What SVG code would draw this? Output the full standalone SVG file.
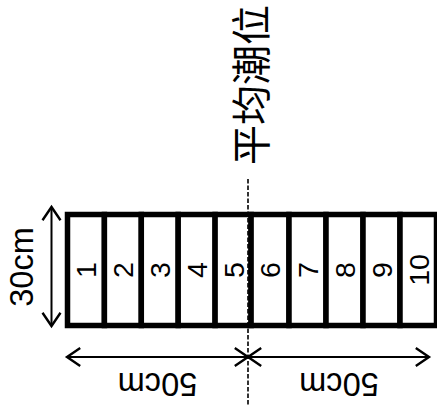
<svg xmlns="http://www.w3.org/2000/svg" width="437" height="412" viewBox="0 0 437 412">
<style>
.cell{fill:#fff;stroke:#000;stroke-width:5.5}
.num{font-family:"Liberation Sans",Arial,sans-serif;font-size:28.5px;fill:#000;text-anchor:middle}
.lbl{font-family:"Liberation Sans",Arial,sans-serif;font-size:32.5px;fill:#000;text-anchor:middle}
.cjk{font-family:"Noto Sans CJK SC",sans-serif;font-size:40px;fill:#000;text-anchor:middle}
.arr{stroke:#000;stroke-width:2;fill:none}
.dash{stroke:#000;stroke-width:1.6;stroke-dasharray:4.5,2;fill:none}
</style>
<defs>
<marker id="ah" markerUnits="userSpaceOnUse" markerWidth="24" markerHeight="24" refX="0" refY="0" viewBox="-13 -10 16 20" orient="auto-start-reverse" overflow="visible">
<path d="M-11,-7.5 L0,0 L-11,7.5" fill="none" stroke="#000" stroke-width="2"/>
</marker>
</defs>
<rect width="437" height="412" fill="#fff"/>
<g id="cells">
<g id="cell1"><rect class="cell" x="67.5" y="214.5" width="36.9" height="111"/><text class="num" transform="translate(86,270) rotate(-90)" dy="0.36em">1</text></g>
<g id="cell2"><rect class="cell" x="104.4" y="214.5" width="36.9" height="111"/><text class="num" transform="translate(123,270) rotate(-90)" dy="0.36em">2</text></g>
<g id="cell3"><rect class="cell" x="141.3" y="214.5" width="36.9" height="111"/><text class="num" transform="translate(160,270) rotate(-90)" dy="0.36em">3</text></g>
<g id="cell4"><rect class="cell" x="178.2" y="214.5" width="36.9" height="111"/><text class="num" transform="translate(197,270) rotate(-90)" dy="0.36em">4</text></g>
<g id="cell5"><rect class="cell" x="215.1" y="214.5" width="36" height="111"/><text class="num" transform="translate(233.5,270) rotate(-90)" dy="0.36em">5</text></g>
<g id="cell6"><rect class="cell" x="251.1" y="214.5" width="37.9" height="111"/><text class="num" transform="translate(270,270) rotate(-90)" dy="0.36em">6</text></g>
<g id="cell7"><rect class="cell" x="289" y="214.5" width="37" height="111"/><text class="num" transform="translate(307.5,270) rotate(-90)" dy="0.36em">7</text></g>
<g id="cell8"><rect class="cell" x="326" y="214.5" width="37" height="111"/><text class="num" transform="translate(344.5,270) rotate(-90)" dy="0.36em">8</text></g>
<g id="cell9"><rect class="cell" x="363" y="214.5" width="37" height="111"/><text class="num" transform="translate(381.5,270) rotate(-90)" dy="0.36em">9</text></g>
<g id="cell10"><rect class="cell" x="400" y="214.5" width="36.5" height="111"/><text class="num" transform="translate(418.5,270) rotate(-90)" dy="0.36em">10</text></g>
</g>
<g id="connectors">
<line class="dash" x1="248" y1="179" x2="248" y2="406"/>
<line class="arr" x1="51.5" y1="207" x2="51.5" y2="326" marker-start="url(#ah)" marker-end="url(#ah)"/>
<line class="arr" x1="67" y1="357" x2="248" y2="357" marker-start="url(#ah)" marker-end="url(#ah)"/>
<line class="arr" x1="248" y1="357" x2="429" y2="357" marker-start="url(#ah)" marker-end="url(#ah)"/>
</g>
<g id="labels">
<text class="lbl" transform="translate(21,267) rotate(-90)" dy="0.36em">30cm</text>
<text class="lbl" transform="translate(157.5,385) rotate(180)" dy="0.36em">50cm</text>
<text class="lbl" transform="translate(339,385) rotate(180)" dy="0.36em">50cm</text>
<text class="cjk" transform="translate(251,85) rotate(-90)" dy="0.37em">平均潮位</text>
</g>
</svg>
